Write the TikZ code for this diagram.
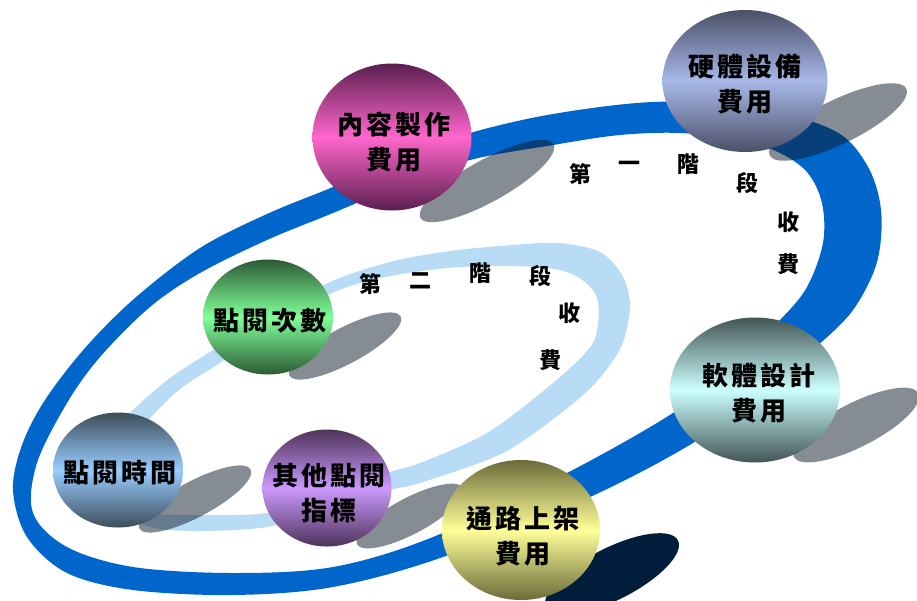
\documentclass[tikz,border=0pt]{standalone}
\usepackage{fontspec}
\usetikzlibrary{shapes.geometric}
\newfontfamily\cjk[LetterSpace=12]{Noto Sans CJK TC}
\newfontfamily\cjkb{Noto Sans CJK TC}
\definecolor{bandblue}{HTML}{0066CC}
\definecolor{bandlight}{HTML}{B8DCF6}
\definecolor{shadowC}{HTML}{0F1A2A}
\definecolor{navyshadow}{HTML}{001D3B}
\definecolor{pinkM}{HTML}{FF66CC}\definecolor{pinkE}{HTML}{5A1F4F}
\definecolor{hwM}{HTML}{A8B8E8}\definecolor{hwE}{HTML}{4A5068}
\definecolor{grM}{HTML}{80FF99}\definecolor{grE}{HTML}{2D5A35}
\definecolor{tmM}{HTML}{99CCFF}\definecolor{tmE}{HTML}{3D4D5A}
\definecolor{vlM}{HTML}{CC99FF}\definecolor{vlE}{HTML}{4D3358}
\definecolor{ylM}{HTML}{FFFF99}\definecolor{ylE}{HTML}{6B6B3A}
\definecolor{cyM}{HTML}{CCFFFF}\definecolor{cyE}{HTML}{435555}
\begin{document}
\begin{tikzpicture}[x=1pt,y=-1pt,
  ball/.style 2 args={ellipse, draw=none, inner sep=0pt, top color=#2, bottom color=#2, middle color=#1},
  lbl/.style={font=\cjk\bfseries\fontsize{26}{35}\selectfont, align=center, inner sep=0pt},
  stg/.style={font=\cjkb\bfseries\fontsize{22}{22}\selectfont, inner sep=0pt},
  shd/.style={fill=shadowC, fill opacity=0.5},
]
\useasboundingbox (0,0) rectangle (917,600);
\fill[white] (0,0) rectangle (917,600);

% outer (dark blue) band
\fill[bandblue, even odd rule]
  plot[smooth cycle, tension=0.55] coordinates {(13,490) (22,445) (45,400) (85,348) (135,298) (200,248) (267,214) (333,187) (400,158) (470,133) (553,114) (653,102) (750,106) (833,130) (867,165) (881,210) (877,262) (853,310) (815,348) (760,395) (693,443) (590,497) (443,557) (333,587) (233,595) (133,590) (67,573) (27,537)}
  plot[smooth cycle, tension=0.55] coordinates {(33,513) (37,463) (67,403) (100,357) (150,307) (200,273) (267,240) (333,213) (400,185) (470,160) (553,145) (620,135) (680,133) (740,140) (778,152) (807,172) (822,203) (823,243) (807,287) (780,320) (730,368) (673,413) (567,473) (433,537) (333,567) (233,573) (133,567) (67,547)};

% inner (light blue) band
\fill[bandlight, even odd rule]
  plot[smooth cycle, tension=0.5] coordinates {(92,470) (105,440) (133,410) (170,378) (210,352) (265,318) (330,282) (390,262) (450,251) (513,245) (560,243) (600,252) (622,275) (630,305) (622,345) (598,380) (565,410) (503,453) (420,483) (390,490) (330,510) (267,527) (200,531) (150,527) (110,505)}
  plot[smooth cycle, tension=0.5] coordinates {(120,470) (130,442) (150,418) (180,389) (215,366) (270,330) (330,294) (380,278) (447,268) (513,266) (560,270) (585,282) (598,302) (593,343) (553,383) (487,433) (420,463) (390,472) (330,495) (267,513) (200,515) (150,513) (128,498)};

% shadows
\fill[shd, rotate around={29:(487,181)}] (487,181) ellipse [x radius=76pt, y radius=21pt];
\fill[shd, rotate around={26:(838,122)}] (838,122) ellipse [x radius=76pt, y radius=22pt];
\fill[shd, rotate around={28:(345,346)}] (345,346) ellipse [x radius=63pt, y radius=18pt];
\fill[shd, rotate around={28:(195,499)}] (195,499) ellipse [x radius=63pt, y radius=18pt];
\fill[shd, rotate around={28:(410,516)}] (410,516) ellipse [x radius=60pt, y radius=18pt];
\fill[shd, rotate around={27:(856,425)}] (856,425) ellipse [x radius=70pt, y radius=22pt];
\fill[navyshadow, rotate around={27:(612,574)}] (612,574) ellipse [x radius=74pt, y radius=26pt];

% balls
\node[ball={pinkM}{pinkE}, minimum width=159pt, minimum height=147pt] (c1) at (392,137) {};
\node[ball={hwM}{hwE}, minimum width=165pt, minimum height=142pt] (c2) at (745,81) {};
\node[ball={grM}{grE}, minimum width=130pt, minimum height=115pt] (c3) at (268,317) {};
\node[ball={tmM}{tmE}, minimum width=130pt, minimum height=115pt] (c4) at (118,470) {};
\node[ball={vlM}{vlE}, minimum width=129pt, minimum height=117pt] (c5) at (327,488) {};
\node[ball={ylM}{ylE}, minimum width=158pt, minimum height=140pt] (c6) at (521,530) {};
\node[ball={cyM}{cyE}, minimum width=170pt, minimum height=145pt] (c7) at (755,390) {};

% labels
\node[lbl] (t1) at (394,142) {內容製作\\費用};
\node[lbl] (t2) at (745,84) {硬體設備\\費用};
\node[lbl] (t3) at (270,321) {點閱次數};
\node[lbl] (t4) at (120,473) {點閱時間};
\node[lbl] (t5) at (329,493) {其他點閱\\指標};
\node[lbl] (t6) at (523,536) {通路上架\\費用};
\node[lbl] (t7) at (759,393) {軟體設計\\費用};

% stage 1
\node[stg] (a1) at (580,174) {第};
\node[stg] (a2) at (629,166) {一};
\node[stg] (a3) at (688,164) {階};
\node[stg] (a4) at (747,183) {段};
\node[stg] (a5) at (788,222) {收};
\node[stg] (a6) at (788,264) {費};
% stage 2
\node[stg] (b1) at (370,284) {第};
\node[stg] (b2) at (420,281) {二};
\node[stg] (b3) at (480,273) {階};
\node[stg] (b4) at (540,276) {段};
\node[stg] (b5) at (569,313) {收};
\node[stg] (b6) at (550,360) {費};
\end{tikzpicture}
\end{document}
